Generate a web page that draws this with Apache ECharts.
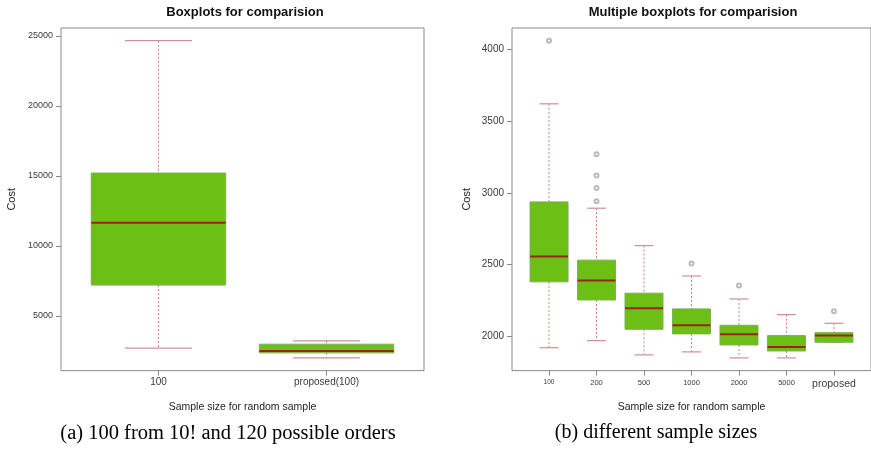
<!DOCTYPE html>
<html><head><meta charset="utf-8">
<script src="https://cdn.jsdelivr.net/npm/echarts@6/dist/echarts.min.js"></script>
<style>html,body{margin:0;padding:0;background:#fff}#c{width:871px;height:452px}</style>
</head><body><div id="c"></div>
<script>
// ---- Panel (a) ----
const catsA = ['100', 'proposed(100)'];
const minA = [2700, 2000];
const q1A = [7200, 2360];
const medA = [11650, 2500];
const q3A = [15200, 2980];
const maxA = [24650, 3210];
const ticksA = [5000, 10000, 15000, 20000, 25000];

// ---- Panel (b) ----
const catsB = ['100', '200', '500', '1000', '2000', '5000', 'proposed'];
const minB = [1923, 1972, 1873, 1894, 1852, 1852, 1961];
const q1B = [2381, 2255, 2051, 2019, 1942, 1900, 1961];
const medB = [2558, 2390, 2198, 2079, 2017, 1928, 2007];
const q3B = [2937, 2532, 2302, 2193, 2079, 2007, 2028];
const maxB = [3619, 2893, 2633, 2422, 2262, 2153, 2093];
const outB = [[4058], [3269, 3120, 3033, 2942], [], [2508], [2355], [], [2177]];
const ticksB = [2000, 2500, 3000, 3500, 4000];

const GREEN = '#6cbf14', BORDER = '#7fae55', MED = '#9b2412', WHISK = '#cc7d86', CAP = '#cf8f96';
const FONT = "'Liberation Sans', Arial, sans-serif";
const AXC = '#8a8a8a', TXT = '#3a3a3a';

function rows(mn, q1, md, q3, mx) { return mn.map((v, i) => [i + 1, v, q1[i], md[i], q3[i], mx[i]]); }
function rRange(arrs) {
  const all = [].concat(...arrs);
  const lo = Math.min(...all), hi = Math.max(...all), d = (hi - lo) * 0.04;
  return [lo - d, hi + d];
}
function renderBox(params, api) {
  const x = api.value(0);
  const pLo = api.coord([x, api.value(1)]), pQ1 = api.coord([x, api.value(2)]),
        pMd = api.coord([x, api.value(3)]), pQ3 = api.coord([x, api.value(4)]),
        pHi = api.coord([x, api.value(5)]);
  const bw = api.size([0.8, 0])[0], cw = bw / 2, cx = pMd[0];
  const ws = { stroke: WHISK, lineWidth: 1, lineDash: [2, 2] };
  const cs = { stroke: CAP, lineWidth: 1.2 };
  return { type: 'group', children: [
    { type: 'line', shape: { x1: cx, y1: pHi[1], x2: cx, y2: pQ3[1] }, style: ws },
    { type: 'line', shape: { x1: cx, y1: pQ1[1], x2: cx, y2: pLo[1] }, style: ws },
    { type: 'line', shape: { x1: cx - cw / 2, y1: pHi[1], x2: cx + cw / 2, y2: pHi[1] }, style: cs },
    { type: 'line', shape: { x1: cx - cw / 2, y1: pLo[1], x2: cx + cw / 2, y2: pLo[1] }, style: cs },
    { type: 'rect', shape: { x: cx - bw / 2, y: pQ3[1], width: bw, height: pQ1[1] - pQ3[1] }, style: { fill: GREEN, stroke: BORDER, lineWidth: 1 } },
    { type: 'line', shape: { x1: cx - bw / 2, y1: pMd[1], x2: cx + bw / 2, y2: pMd[1] }, style: { stroke: MED, lineWidth: 2 } }
  ]};
}

const rangeA = rRange([minA, maxA]);
const rangeB = rRange([minB, maxB, ...outB]);
const nA = catsA.length, nB = catsB.length;
const xPadA = nA * 0.04, xPadB = nB * 0.04;

const outData = [];
outB.forEach((arr, i) => arr.forEach(v => outData.push([i + 1, v])));

function yAxis(gi, range, ticks, fs, nameGap) {
  return {
    type: 'value', gridIndex: gi, min: range[0], max: range[1],
    splitLine: { show: false }, axisLine: { show: false },
    axisTick: { show: true, length: 5, customValues: ticks, lineStyle: { color: AXC } },
    axisLabel: { customValues: ticks, formatter: v => String(Math.round(v)), color: TXT, fontSize: fs, fontFamily: FONT, margin: 8 },
    name: 'Cost', nameLocation: 'middle', nameGap: nameGap,
    nameTextStyle: { color: '#222', fontSize: 11, fontFamily: FONT }
  };
}

const option = {
  animation: false,
  backgroundColor: '#fff',
  title: [
    { text: 'Boxplots for comparision', left: 245, top: 6, textAlign: 'center', padding: 0,
      textStyle: { fontSize: 13, fontWeight: 'bold', color: '#111', fontFamily: FONT } },
    { text: 'Multiple boxplots for comparision', left: 693, top: 6, textAlign: 'center', padding: 0,
      textStyle: { fontSize: 13, fontWeight: 'bold', color: '#111', fontFamily: FONT } },
    { text: '(a) 100 from 10! and 120 possible orders', left: 228, top: 423, textAlign: 'center', padding: 0,
      textStyle: { fontSize: 20.5, fontWeight: 'normal', color: '#000', fontFamily: "'Liberation Serif', 'Times New Roman', serif" } },
    { text: '(b) different sample sizes', left: 656, top: 423, textAlign: 'center', padding: 0,
      textStyle: { fontSize: 20, fontWeight: 'normal', color: '#000', fontFamily: "'Liberation Serif', 'Times New Roman', serif" } }
  ],
  grid: [
    { left: 61, top: 28, width: 363, height: 342.6, show: true, borderColor: AXC, borderWidth: 1, backgroundColor: 'transparent' },
    { left: 512, top: 28, width: 364.4, height: 342.6, show: true, borderColor: AXC, borderWidth: 1, backgroundColor: 'transparent' }
  ],
  xAxis: [
    { type: 'value', gridIndex: 0, min: 0.5 - xPadA, max: nA + 0.5 + xPadA,
      splitLine: { show: false }, axisLine: { show: false },
      axisTick: { show: true, length: 5, customValues: catsA.map((c, i) => i + 1), lineStyle: { color: AXC } },
      axisLabel: { customValues: catsA.map((c, i) => i + 1), formatter: v => catsA[Math.round(v) - 1],
        color: TXT, fontSize: 10, fontFamily: FONT, margin: 7 },
      name: 'Sample size for random sample', nameLocation: 'middle', nameGap: 31,
      nameTextStyle: { color: '#222', fontSize: 10.5, fontFamily: FONT } },
    { type: 'value', gridIndex: 1, min: 0.5 - xPadB, max: nB + 0.5 + xPadB,
      splitLine: { show: false }, axisLine: { show: false },
      axisTick: { show: true, length: 5, customValues: catsB.map((c, i) => i + 1), lineStyle: { color: AXC } },
      axisLabel: { customValues: catsB.map((c, i) => i + 1),
        formatter: v => { const i = Math.round(v) - 1; const s = catsB[i];
          return i === 0 ? '{s|' + s + '}' : (isNaN(+s) ? '{p|' + s + '}' : '{n|' + s + '}'); },
        rich: { s: { fontSize: 6.5, color: TXT, fontFamily: FONT }, n: { fontSize: 7.5, color: TXT, fontFamily: FONT },
                p: { fontSize: 10.5, color: TXT, fontFamily: FONT } },
        margin: 8 },
      name: 'Sample size for random sample', nameLocation: 'middle', nameGap: 31,
      nameTextStyle: { color: '#222', fontSize: 10.5, fontFamily: FONT } }
  ],
  yAxis: [ yAxis(0, rangeA, ticksA, 9, 44), yAxis(1, rangeB, ticksB, 10, 40) ],
  series: [
    { type: 'custom', xAxisIndex: 0, yAxisIndex: 0, renderItem: renderBox,
      encode: { x: 0, y: [1, 2, 3, 4, 5] }, data: rows(minA, q1A, medA, q3A, maxA) },
    { type: 'custom', xAxisIndex: 1, yAxisIndex: 1, renderItem: renderBox,
      encode: { x: 0, y: [1, 2, 3, 4, 5] }, data: rows(minB, q1B, medB, q3B, maxB) },
    { type: 'scatter', xAxisIndex: 1, yAxisIndex: 1, symbol: 'emptyCircle', symbolSize: 4,
      itemStyle: { color: '#aaaaaa', borderWidth: 1 }, data: outData }
  ]
};
const chart = echarts.init(document.getElementById('c'), null, { renderer: 'canvas' });
chart.setOption(option);
</script></body></html>
